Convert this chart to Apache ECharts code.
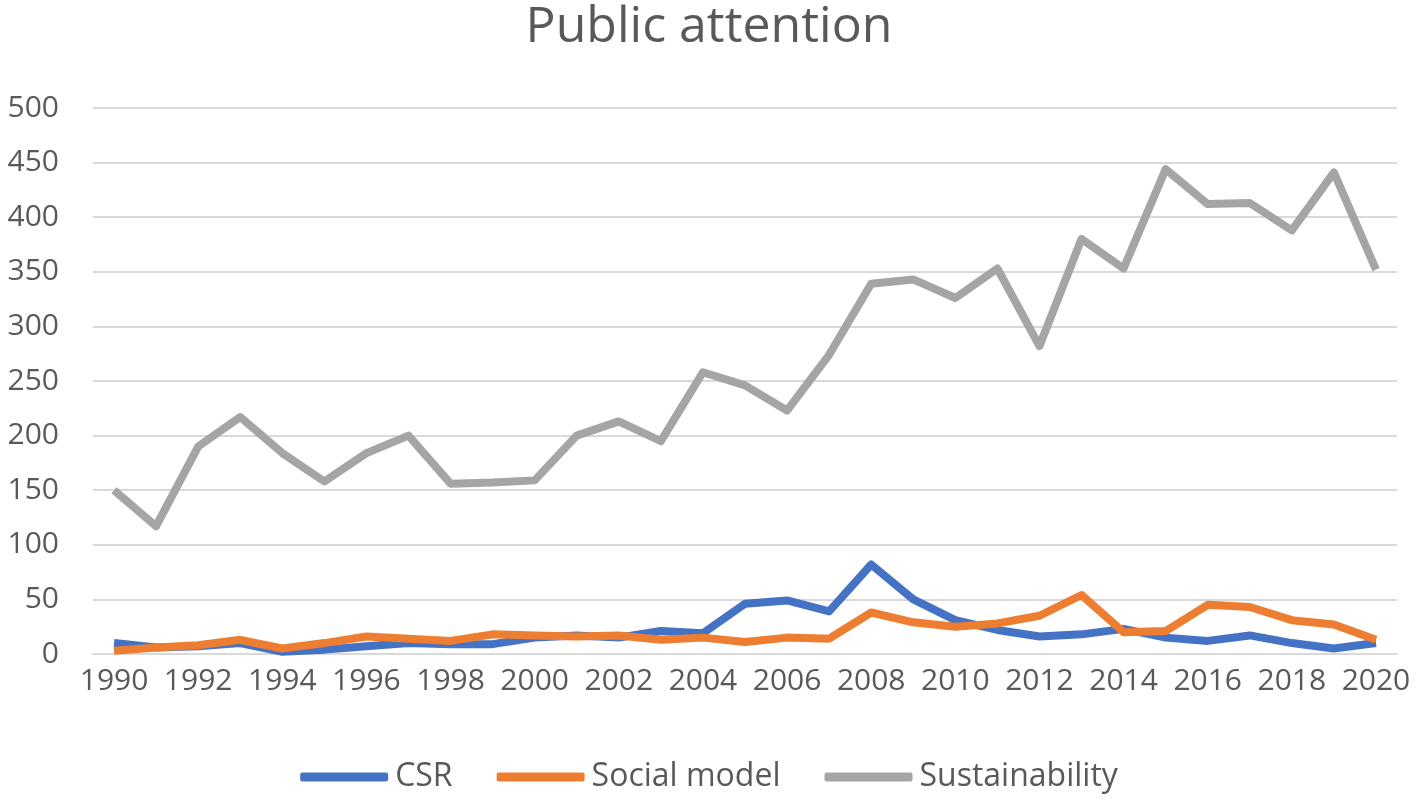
<!DOCTYPE html>
<html>
<head>
<meta charset="utf-8">
<script src="https://cdn.jsdelivr.net/npm/echarts@6/dist/echarts.min.js"></script>
<style>
html,body{margin:0;padding:0;background:#fff;}
#chart{width:1418px;height:804px;}
</style>
</head>
<body>
<div id="chart"></div>
<script>
const years = ['1990','1991','1992','1993','1994','1995','1996','1997','1998','1999','2000','2001','2002','2003','2004','2005','2006','2007','2008','2009','2010','2011','2012','2013','2014','2015','2016','2017','2018','2019','2020'];
const csr = [10,6,7,10,2,4,7,10,9,9,15,17,15,21,19,46,49,39,82,50,31,22,16,18,23,15,12,17,10,5,10];
const socialModel = [3,6,8,13,5,10,16,14,12,18,17,16,17,13,15,11,15,14,38,29,25,28,35,54,20,21,45,43,31,27,13];
const sustainability = [150,117,190,217,184,158,184,200,156,157,159,200,213,195,258,246,223,274,339,343,326,353,282,380,353,444,412,413,388,441,352];
const yTicks = [0,50,100,150,200,250,300,350,400,450,500];

const font = 'Open Sans';
const txt = '#595959';
const chart = echarts.init(document.getElementById('chart'));
chart.setOption({
  animation:false,
  title:{text:'Public attention',left:'center',top:-2,textStyle:{fontFamily:font,fontSize:50,fontWeight:'normal',color:txt}},
  grid:{left:93,right:21,top:108,bottom:150,containLabel:false},
  legend:{bottom:6,left:'center',icon:'roundRect',itemWidth:88,itemHeight:9,itemGap:44,
    textStyle:{fontFamily:font,fontSize:32,color:txt,padding:[0,0,0,2]},
    data:['CSR','Social model','Sustainability']},
  xAxis:{type:'category',data:years,boundaryGap:true,
    axisLine:{lineStyle:{color:'#d9d9d9',width:2}},axisTick:{show:false},
    axisLabel:{interval:1,fontFamily:font,fontSize:30,color:txt,margin:12}},
  yAxis:{type:'value',min:yTicks[0],max:yTicks[yTicks.length-1],interval:50,
    axisLine:{show:false},axisTick:{show:false},
    splitLine:{lineStyle:{color:'#d9d9d9',width:2}},
    axisLabel:{fontFamily:font,fontSize:30,color:txt,margin:34}},
  series:[
    {name:'CSR',type:'line',data:csr,symbol:'none',lineStyle:{color:'#4472c4',width:8,join:'round'},itemStyle:{color:'#4472c4'}},
    {name:'Social model',type:'line',data:socialModel,symbol:'none',lineStyle:{color:'#ed7d31',width:8,join:'round'},itemStyle:{color:'#ed7d31'}},
    {name:'Sustainability',type:'line',data:sustainability,symbol:'none',lineStyle:{color:'#a5a5a5',width:8,join:'round'},itemStyle:{color:'#a5a5a5'}}
  ]
});
</script>
</body>
</html>
